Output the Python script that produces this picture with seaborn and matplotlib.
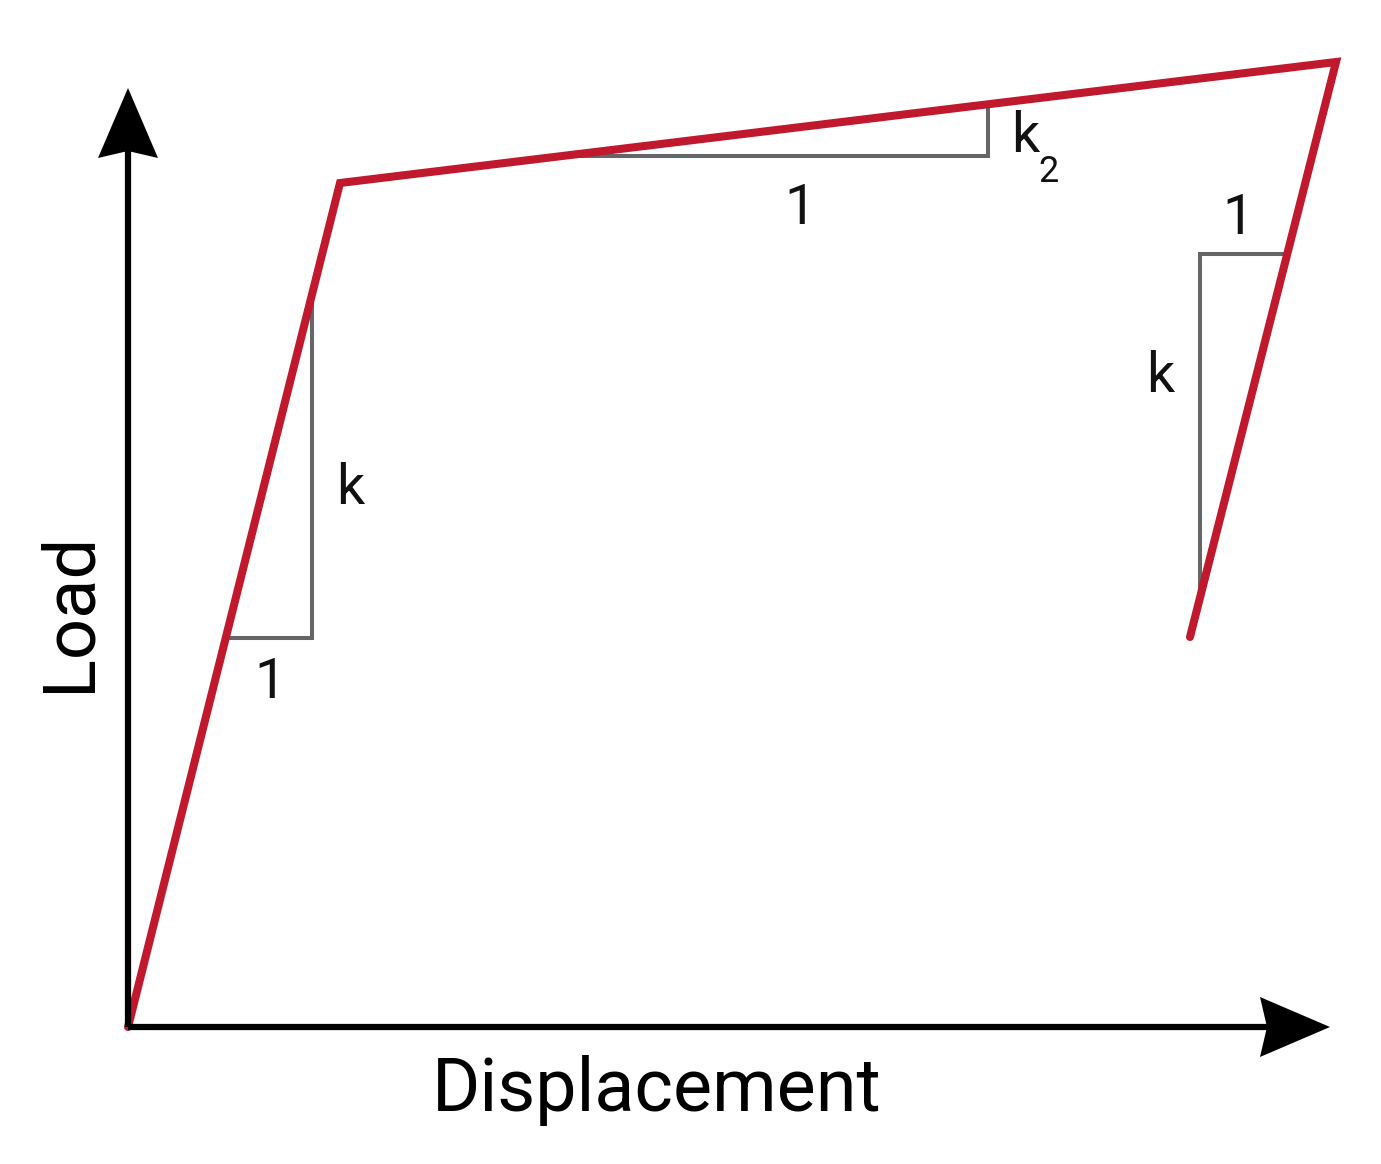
import numpy as np
import pandas as pd
import seaborn as sns
import matplotlib.pyplot as plt

# load-displacement path (arbitrary units): origin -> yield -> peak -> unloaded
disp = [0.0, 2.12, 12.08, 10.62]
load = [0.0, 8.44, 9.65, 3.90]

# slope triangles: segment index and right-angle corner
tri_seg = [0, 1, 2]
tri_corner_d = [1.84, 8.60, 10.72]
tri_corner_p = [3.89, 8.71, 7.73]

# slope labels (text, d, P, size)
labels = [
    ("k", 2.22, 5.39, 40),
    ("1", 1.42, 3.45, 40),
    ("1", 6.72, 8.19, 40),
    ("k", 8.97, 8.90, 40),
    ("2", 9.21, 8.55, 26),
    ("1", 11.10, 8.09, 40),
    ("k", 10.32, 6.51, 40),
]

x_end = 12.02
y_end = 9.39

RED = "#C0182C"
GREY = "#666666"

sns.set_style("white")
plt.rcParams["font.family"] = ["Roboto", "DejaVu Sans"]

fig = plt.figure(figsize=(13.81, 11.64), dpi=100)
ax = fig.add_axes([0, 0, 1, 1])
ax.set_xlim(-1.28, 12.53)
ax.set_ylim(-1.37, 10.27)
ax.axis("off")


def d_at_load(i, p):
    d0, d1, p0, p1 = disp[i], disp[i + 1], load[i], load[i + 1]
    return d0 + (p - p0) * (d1 - d0) / (p1 - p0)


def p_at_disp(i, d):
    d0, d1, p0, p1 = disp[i], disp[i + 1], load[i], load[i + 1]
    return p0 + (d - d0) * (p1 - p0) / (d1 - d0)


# grey slope triangles
for i, dc, pc in zip(tri_seg, tri_corner_d, tri_corner_p):
    dh = d_at_load(i, pc)
    pv = p_at_disp(i, dc)
    tri = pd.DataFrame({"d": [dh, dc, dc], "P": [pc, pc, pv]})
    sns.lineplot(data=tri, x="d", y="P", sort=False, estimator=None,
                 color=GREY, lw=2.9, ax=ax, zorder=2, solid_joinstyle="miter")

# the curve
curve = pd.DataFrame({"d": disp, "P": load})
sns.lineplot(data=curve, x="d", y="P", sort=False, estimator=None,
             color=RED, lw=5.8, ax=ax, zorder=3,
             solid_joinstyle="miter", solid_capstyle="round")


def arrow(tip, direction, length=0.70, width=0.60, notch=0.07):
    tip = np.array(tip, float)
    u = np.array(direction, float)
    n = np.array([-u[1], u[0]])
    base = tip - length * u
    back = tip - (length - notch) * u
    pts = np.array([tip, base + n * width / 2, back, base - n * width / 2])
    ax.fill(pts[:, 0], pts[:, 1], color="black", zorder=5, lw=0)
    return back


# axes with arrow heads
bx = arrow((x_end, 0.0), (1, 0))
by = arrow((0.0, y_end), (0, 1))
ax.plot([0, bx[0]], [0, 0], color="black", lw=4.5, zorder=4, solid_capstyle="butt")
ax.plot([0, 0], [0, by[1]], color="black", lw=4.5, zorder=4, solid_capstyle="butt")

for txt, d, p, size in labels:
    ax.text(d, p, txt, fontsize=size, ha="center", va="center", color="#111111")

ax.text(5.29, -0.63, "Displacement", fontsize=53, ha="center", va="center", color="black")
ax.text(-0.58, 4.15, "Load", fontsize=52, ha="center", va="center", rotation=90, color="black")

fig.savefig("out.png", dpi=100, facecolor="white")
